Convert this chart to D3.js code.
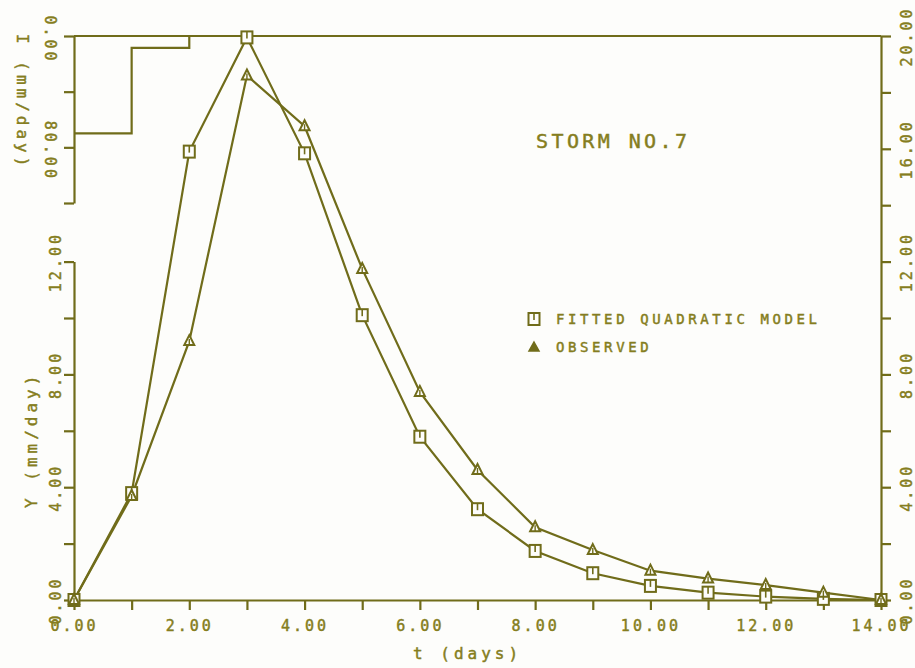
<!DOCTYPE html>
<html>
<head>
<meta charset="utf-8">
<script src="https://cdn.jsdelivr.net/npm/d3@7/dist/d3.min.js"></script>
<style>
  body { margin: 0; background: #fdfdfb; }
  text { font-family: "DejaVu Sans Mono", monospace; fill: #857d20; stroke: #857d20; stroke-width: 0.45px; }
</style>
</head>
<body>
<script>
// flow data, storm no. 7
var days = [0, 1, 2, 3, 4, 5, 6, 7, 8, 9, 10, 11, 12, 13, 14];
var fitted = [0, 3.79, 15.9, 19.95, 15.84, 10.1, 5.79, 3.22, 1.74, 0.95, 0.5, 0.26, 0.12, 0.04, 0];
var observed = [0, 3.69, 9.18, 18.6, 16.8, 11.74, 7.38, 4.61, 2.58, 1.77, 1.04, 0.76, 0.53, 0.26, 0];

// rainfall (hyetograph), value for each day interval starting at rainDays[i]
var rainDays = [0, 1, 2];
var rain = [70, 8.6, 0];

var xTicks = [0, 2, 4, 6, 8, 10, 12, 14];
var yTicks = [0, 4, 8, 12];
var rightTicks = [0, 4, 8, 12, 16, 20];
var rainTicks = [0, 80];

var ink = "#706c1a";
var width = 915, height = 668;

var svg = d3.select("body").append("svg")
    .attr("width", width)
    .attr("height", height);

//SCALES
var xScale = d3.scaleLinear().domain([0, 14]).range([74, 881]);
var yScale = d3.scaleLinear().domain([0, 20]).range([600, 36]);
var rainScale = d3.scaleLinear().domain([0, 120]).range([36, 203]);

function fmt(d) { return d3.format(".2f")(d); }

function styleAxis(g, spacing) {
    g.select(".domain").attr("stroke", ink).attr("stroke-width", 2.2);
    g.selectAll(".tick line").attr("stroke", ink).attr("stroke-width", 2.2);
    g.selectAll(".tick text")
        .style("font-family", "'DejaVu Sans Mono', monospace")
        .style("font-size", "15px")
        .style("letter-spacing", spacing + "px")
        .attr("fill", "#857d20");
}

// x axis: ticks every day, labels every 2
var xAxis = svg.append("g")
    .attr("transform", "translate(0,600)")
    .call(d3.axisBottom(xScale).tickValues(d3.range(0, 15, 1)).tickSize(10).tickSizeOuter(0)
        .tickFormat(function(d){ return xTicks.indexOf(d) >= 0 ? fmt(d) : ""; }));
styleAxis(xAxis, 3);
xAxis.selectAll(".tick text").attr("y", 20).attr("dy", "0.71em");

// left Y axis (0 - 12)
var yLeft = d3.scaleLinear().domain([0, 12]).range([yScale(0), yScale(12)]);
var yAxis = svg.append("g")
    .attr("transform", "translate(74,0)")
    .call(d3.axisLeft(yLeft).tickValues(d3.range(0, 13, 2)).tickSize(10).tickSizeOuter(0)
        .tickFormat(function(d){ return yTicks.indexOf(d) >= 0 ? fmt(d) : ""; }));
styleAxis(yAxis, 3);
yAxis.selectAll(".tick text")
    .attr("x", null).attr("dy", null)
    .attr("text-anchor", "middle")
    .attr("transform", "translate(-13,0) rotate(-90)");

// right axis (0 - 20)
var yAxisR = svg.append("g")
    .attr("transform", "translate(881,0)")
    .call(d3.axisRight(yScale).tickValues(d3.range(0, 21, 2)).tickSize(10).tickSizeOuter(0)
        .tickFormat(function(d){ return rightTicks.indexOf(d) >= 0 ? fmt(d) : ""; }));
styleAxis(yAxisR, 3);
yAxisR.selectAll(".tick text")
    .attr("x", null).attr("dy", null)
    .attr("text-anchor", "middle")
    .attr("transform", "translate(31,0) rotate(-90)");

// rainfall axis, inverted, labels upside down
var rainAxis = svg.append("g")
    .attr("transform", "translate(74,0)")
    .call(d3.axisLeft(rainScale).tickValues([0, 40, 80, 120]).tickSize(10).tickSizeOuter(0)
        .tickFormat(function(d){ return rainTicks.indexOf(d) >= 0 ? fmt(d) : ""; }));
styleAxis(rainAxis, 3);
rainAxis.selectAll(".tick text")
    .attr("x", null).attr("dy", null)
    .attr("text-anchor", "middle")
    .attr("transform", "translate(-29,3) rotate(90)");

// top frame line
svg.append("line")
    .attr("x1", xScale(0)).attr("x2", xScale(14))
    .attr("y1", yScale(20)).attr("y2", yScale(20))
    .attr("stroke", ink).attr("stroke-width", 2.2);

// hyetograph
var rainData = rainDays.map(function(t, i){ return {t: t, r: rain[i]}; });
var stepLine = d3.line()
    .x(function(d){ return xScale(d.t); })
    .y(function(d){ return rainScale(d.r); })
    .curve(d3.curveStepAfter);
svg.append("path")
    .attr("d", stepLine(rainData))
    .attr("fill", "none").attr("stroke", ink).attr("stroke-width", 2.2);

// flow lines
var line = d3.line()
    .x(function(d){ return xScale(d.t); })
    .y(function(d){ return yScale(d.v); });

var fitData = days.map(function(t, i){ return {t: t, v: fitted[i]}; });
var obsData = days.map(function(t, i){ return {t: t, v: observed[i]}; });

[fitData, obsData].forEach(function(data){
    svg.append("path")
        .attr("d", line(data))
        .attr("fill", "none").attr("stroke", ink).attr("stroke-width", 2.2);
});

// markers
function square(g) {
    g.append("rect").attr("x", -5.5).attr("y", -6).attr("width", 11).attr("height", 12)
        .attr("fill", "#fdfdfb").attr("stroke", ink).attr("stroke-width", 2);
    g.append("line").attr("x1", 0).attr("x2", 0).attr("y1", -6).attr("y2", 1)
        .attr("stroke", ink).attr("stroke-width", 1.6);
}
function triangle(g) {
    g.append("path").attr("d", "M0,-6L5,4L-5,4Z")
        .attr("fill", "#fdfdfb").attr("stroke", ink).attr("stroke-width", 2);
    g.append("line").attr("x1", 0).attr("x2", 0).attr("y1", -2).attr("y2", 4)
        .attr("stroke", ink).attr("stroke-width", 1.4);
}

svg.selectAll("g.fit")
    .data(fitData)
    .enter().append("g")
        .attr("class", "fit")
        .attr("transform", function(d){ return "translate(" + xScale(d.t) + "," + yScale(d.v) + ")"; })
        .each(function(){ square(d3.select(this)); });

svg.selectAll("g.obs")
    .data(obsData)
    .enter().append("g")
        .attr("class", "obs")
        .attr("transform", function(d){ return "translate(" + xScale(d.t) + "," + yScale(d.v) + ")"; })
        .each(function(){ triangle(d3.select(this)); });

// legend
var legend = svg.append("g").attr("transform", "translate(534,0)");
var lg1 = legend.append("g").attr("transform", "translate(0,319)");
square(lg1);
var lg2 = legend.append("g").attr("transform", "translate(0,347)");
lg2.append("path").attr("d", "M0,-5L5,4L-5,4Z").attr("fill", ink).attr("stroke", ink).attr("stroke-width", 1.5);

legend.append("text").attr("x", 22).attr("y", 324)
    .style("font-size", "14px").style("letter-spacing", "3.6px")
    .text("FITTED QUADRATIC MODEL");
legend.append("text").attr("x", 22).attr("y", 352)
    .style("font-size", "14px").style("letter-spacing", "3.6px")
    .text("OBSERVED");

// storm label
svg.append("text").attr("x", 536).attr("y", 148)
    .style("font-size", "20px").style("letter-spacing", "3.4px")
    .text("STORM NO.7");

// axis titles
svg.append("text")
    .attr("x", 413).attr("y", 659)
    .style("font-size", "16px").style("letter-spacing", "4px")
    .text("t  (days)");

svg.append("text")
    .attr("transform", "translate(37,508) rotate(-90)")
    .style("font-size", "16px").style("letter-spacing", "4px")
    .text("Y  (mm/day)");

svg.append("text")
    .attr("transform", "translate(17,34) rotate(90)")
    .style("font-size", "16px").style("letter-spacing", "4px")
    .text("I  (mm/day)");
</script>
</body>
</html>
